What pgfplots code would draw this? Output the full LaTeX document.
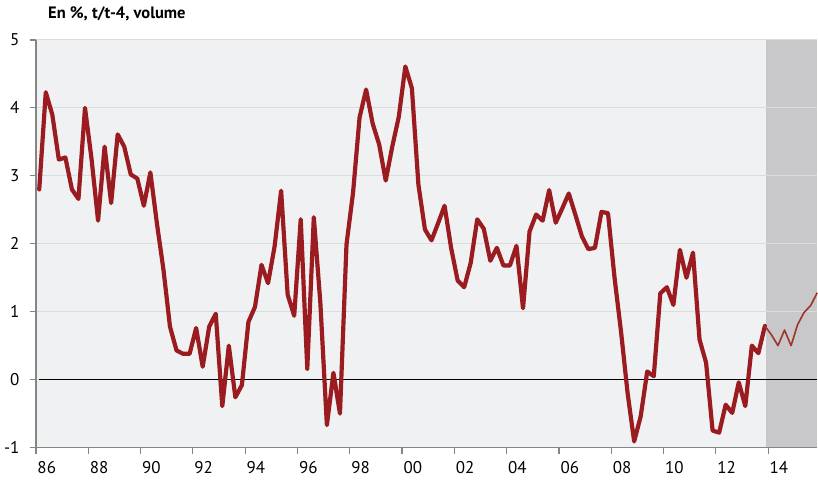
\documentclass[border=0pt]{standalone}
\usepackage{fontspec}
\setmainfont{PT Sans}
\usepackage{pgfplots}
\pgfplotsset{compat=1.18}
\definecolor{bgcol}{HTML}{F0F1F3}
\definecolor{fccol}{HTML}{C8C8CA}
\definecolor{gridcol}{HTML}{DCDCDF}
\definecolor{axcol}{HTML}{858585}
\definecolor{linecol}{HTML}{9A1B20}
\definecolor{fcline}{HTML}{9E3427}
\begin{document}
\begin{tikzpicture}
\path (-36pt,-34pt) rectangle (782pt,448pt);
\begin{axis}[
  set layers,
  scale only axis,
  width=782pt, height=408pt,
  xmin=-0.5, xmax=119, ymin=-1, ymax=5,
  axis x line*=bottom, axis y line*=left,
  axis line style={-, draw=axcol, line width=1.6pt},
  xtick={-0.5,7.5,...,111.5},
  xticklabels={86,88,90,92,94,96,98,00,02,04,06,08,10,12,14},
  ytick={-1,0,1,2,3,4,5},
  yticklabels={-1,0,1,2,3,4,5},
  tick align=outside,
  major tick length=6pt,
  tick style={draw=axcol, line width=1.2pt},
  ymajorgrids,
  grid style={draw=gridcol, line width=1pt},
  xticklabel style={anchor=north west, xshift=-2pt, yshift=-4pt, font=\fontsize{17}{17}\selectfont},
  yticklabel style={anchor=east, xshift=-7pt, font=\fontsize{17}{17}\selectfont},
  clip=false,
]
\addplot[fill=bgcol, draw=none, on layer=axis background] coordinates {(-0.5,-1) (111.2,-1) (111.2,5) (-0.5,5)};
\addplot[fill=fccol, draw=none, on layer=axis background] coordinates {(111.2,-1) (119,-1) (119,5) (111.2,5)};
\addplot[black, line width=1.2pt] coordinates {(0,0) (119,0)};
\addplot[linecol, line width=4.2pt, line join=round, line cap=round] coordinates {
(0,2.80) (1,4.23) (2,3.90) (3,3.24) (4,3.27) (5,2.80) (6,2.66) (7,4.00)
(8,3.25) (9,2.34) (10,3.43) (11,2.60) (12,3.61) (13,3.43) (14,3.02) (15,2.96)
(16,2.56) (17,3.05) (18,2.30) (19,1.62) (20,0.78) (21,0.43) (22,0.38) (23,0.38)
(24,0.76) (25,0.19) (26,0.78) (27,0.97) (28,-0.39) (29,0.50) (30,-0.26) (31,-0.08)
(32,0.85) (33,1.07) (34,1.69) (35,1.42) (36,1.96) (37,2.78) (38,1.25) (39,0.94)
(40,2.36) (41,0.16) (42,2.39) (43,1.13) (44,-0.67) (45,0.10) (46,-0.50) (47,1.99)
(48,2.75) (49,3.86) (50,4.27) (51,3.77) (52,3.46) (53,2.93) (54,3.43) (55,3.87)
(56,4.61) (57,4.29) (58,2.87) (59,2.21) (60,2.05) (61,2.30) (62,2.56) (63,1.94)
(64,1.46) (65,1.36) (66,1.72) (67,2.36) (68,2.22) (69,1.75) (70,1.94) (71,1.68)
(72,1.68) (73,1.97) (74,1.05) (75,2.18) (76,2.43) (77,2.34) (78,2.79) (79,2.31)
(80,2.52) (81,2.74) (82,2.43) (83,2.11) (84,1.92) (85,1.94) (86,2.47) (87,2.45)
(88,1.50) (89,0.70) (90,-0.20) (91,-0.91) (92,-0.54) (93,0.12) (94,0.05) (95,1.27)
(96,1.36) (97,1.10) (98,1.91) (99,1.50) (100,1.87) (101,0.59) (102,0.25) (103,-0.75)
(104,-0.78) (105,-0.37) (106,-0.49) (107,-0.04) (108,-0.39) (109,0.50) (110,0.39) (111,0.79)
};
\addplot[fcline, line width=1.6pt, line join=round] coordinates {
(111,0.79) (112,0.66) (113,0.50) (114,0.73) (115,0.50) (116,0.81) (117,0.99) (118,1.09) (119,1.28)
};
\end{axis}
\node[anchor=base west, font=\bfseries\fontsize{16.5}{16.5}\selectfont, inner sep=0pt] at (12pt,429pt) {En \%, t/t-4, volume};
\end{tikzpicture}
\end{document}
